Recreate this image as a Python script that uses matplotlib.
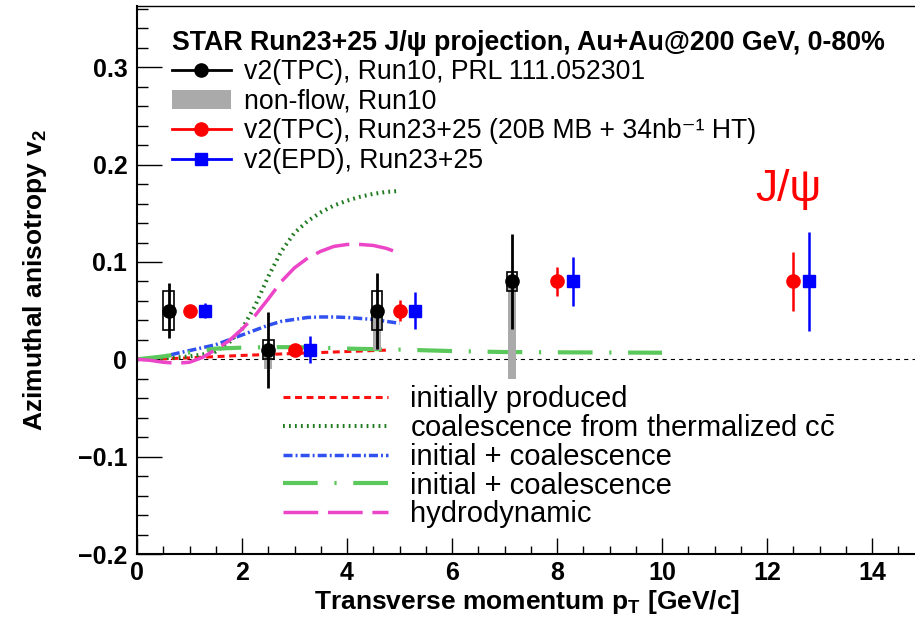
import numpy as np
import matplotlib
matplotlib.use('Agg')
import matplotlib.pyplot as plt
from matplotlib.lines import Line2D
from matplotlib.patches import Patch

plt.rcParams['font.family'] = ['Liberation Sans', 'DejaVu Sans']
plt.rcParams['mathtext.fontset'] = 'custom'
plt.rcParams['mathtext.rm'] = 'Liberation Sans'
plt.rcParams['mathtext.it'] = 'Liberation Sans:italic'
plt.rcParams['mathtext.bf'] = 'Liberation Sans:bold'
plt.rcParams['lines.scale_dashes'] = False

# Run10 measurement (PRL 111.052301)
run10_pt = [0.6, 2.5, 4.57, 7.14]
run10_v2 = [0.05, 0.01, 0.05, 0.08]
run10_stat = [0.028, 0.039, 0.039, 0.049]
run10_sys = [0.02, 0.01, 0.02, 0.01]
run10_nonflow = [0.0, 0.02, 0.04, 0.10]

# Run23+25 projections
tpc_pt = [1.0, 3.0, 5.0, 8.0, 12.5]
tpc_v2 = [0.05, 0.01, 0.05, 0.08, 0.08]
tpc_err = [0.004, 0.004, 0.011, 0.015, 0.03]

epd_pt = [1.3, 3.3, 5.3, 8.3, 12.8]
epd_v2 = [0.05, 0.01, 0.05, 0.08, 0.08]
epd_err = [0.008, 0.014, 0.019, 0.025, 0.051]

# model curves
init_pt = [0, 0.5, 1.0, 1.5, 2.0, 2.5, 3.0, 3.5, 4.0, 4.5, 4.8]
init_v2 = [0, 0.0005, 0.0015, 0.0028, 0.004, 0.005, 0.006, 0.007, 0.008, 0.009, 0.0095]

coal_pt = [0, 0.5, 1.0, 1.25, 1.5, 1.75, 2.0, 2.25, 2.5, 2.75, 3.0, 3.25, 3.5,
           3.75, 4.0, 4.25, 4.5, 4.75, 5.0]
coal_v2 = [0, 0.001, 0.003, 0.005, 0.008, 0.017, 0.031, 0.055, 0.085, 0.111,
           0.130, 0.142, 0.151, 0.158, 0.163, 0.167, 0.170, 0.172, 0.173]

ic1_pt = [0, 0.25, 0.5, 0.75, 1.0, 1.25, 1.5, 1.75, 2.0, 2.25, 2.5, 2.75, 3.0,
          3.25, 3.5, 3.75, 4.0, 4.25, 4.5, 4.75, 5.0]
ic1_v2 = [0, 0.001, 0.003, 0.006, 0.009, 0.012, 0.015, 0.020, 0.025, 0.030,
          0.035, 0.039, 0.041, 0.043, 0.0435, 0.0435, 0.043, 0.042, 0.041,
          0.039, 0.037]

ic2_pt = [0, 0.5, 1.0, 1.5, 2.0, 2.5, 3.0, 3.5, 4.0, 5.0, 6.0, 7.0, 8.0, 9.0, 10.0]
ic2_v2 = [0, 0.003, 0.007, 0.011, 0.012, 0.0125, 0.0125, 0.012, 0.011, 0.010,
          0.0085, 0.0075, 0.0072, 0.007, 0.0068]

hydro_pt = [0, 0.25, 0.5, 0.75, 1.0, 1.25, 1.5, 1.75, 2.0, 2.25, 2.5, 2.75,
            3.0, 3.25, 3.5, 3.75, 4.0, 4.25, 4.5, 4.75, 5.0]
hydro_v2 = [0, -0.001, -0.003, -0.004, -0.003, 0.002, 0.010, 0.019, 0.031,
            0.045, 0.062, 0.080, 0.094, 0.104, 0.111, 0.116, 0.118, 0.118,
            0.117, 0.114, 0.109]

fig = plt.figure(figsize=(9.15, 6.23), dpi=100)
ax = fig.add_axes([137 / 915, 69 / 623, 787.5 / 915, 548 / 623])
ax.set_xlim(0, 15)
ax.set_ylim(-0.2, 0.363)

ax.axhline(0, color='k', lw=0.8, ls=(0, (3, 3)), zorder=1)

# theory curves
h_init, = ax.plot(init_pt, init_v2, color='#ff1010', lw=2.2,
                  ls=(0, (5, 3.3)), zorder=2)
h_coal, = ax.plot(coal_pt, coal_v2, color='#1f7a1f', lw=2.9,
                  ls=(0, (1.3, 3.0)), zorder=2)
h_ic1, = ax.plot(ic1_pt, ic1_v2, color='#3050f0', lw=2.5,
                 ls=(0, (6.5, 2.2, 1.4, 2.2)), zorder=2)
h_ic2, = ax.plot(ic2_pt, ic2_v2, color='#5ac85a', lw=3.0,
                 ls=(0, (25, 12, 1.6, 12)), zorder=2)
h_hydro, = ax.plot(hydro_pt, hydro_v2, color='#ec45c8', lw=2.5,
                   ls=(0, (25, 7)), zorder=2)

# Run10 non-flow band and systematic boxes
run10_low = np.array(run10_v2) - np.array(run10_nonflow)
ax.bar(run10_pt, run10_nonflow, bottom=run10_low, width=0.15,
       color='#aaaaaa', lw=0, zorder=3)
ax.bar(run10_pt, 2 * np.array(run10_sys),
       bottom=np.array(run10_v2) - np.array(run10_sys), width=0.2,
       fill=False, edgecolor='k', lw=1.2, zorder=4)
ax.errorbar(run10_pt, run10_v2, yerr=run10_stat, fmt='o', color='k',
            ms=9.5, elinewidth=2.0, capsize=0, zorder=5)
ax.errorbar(tpc_pt, tpc_v2, yerr=tpc_err, fmt='o', color='#ff0000',
            ms=9.5, elinewidth=1.8, capsize=0, zorder=5)
ax.errorbar(epd_pt, epd_v2, yerr=epd_err, fmt='s', color='#0000ff',
            ms=8.5, elinewidth=1.8, capsize=0, zorder=5)

ax.text(12.4, 0.163, 'J/ψ', color='#ff0000', fontsize=32,
        ha='center', va='baseline')

# axes styling
ax.spines['right'].set_visible(False)
for side in ['left', 'bottom']:
    ax.spines[side].set_linewidth(1.5)
ax.spines['top'].set_linewidth(1.0)
ax.set_xticks(np.arange(0, 15, 2))
ax.set_xticks(np.arange(0, 15.01, 0.5), minor=True)
ax.set_yticks([-0.2, -0.1, 0, 0.1, 0.2, 0.3])
ax.set_yticks(np.arange(-0.2, 0.361, 0.02), minor=True)
ax.set_yticklabels(['\u22120.2', '\u22120.1', '0', '0.1', '0.2', '0.3'])
ax.tick_params(axis='both', which='both', direction='in', width=1.0,
               labelsize=18)
ax.tick_params(axis='x', which='major', length=11.5, pad=5)
ax.tick_params(axis='x', which='minor', length=5.5)
ax.tick_params(axis='y', which='major', length=18, pad=7)
ax.tick_params(axis='y', which='minor', length=8)
for lab in ax.get_xticklabels() + ax.get_yticklabels():
    lab.set_fontweight('bold')

ax.set_xlabel(r'Transverse momentum p$_{\mathbf{T}}$ [GeV/c]',
              fontsize=19, fontweight='bold')
ax.set_ylabel(r'Azimuthal anisotropy v$_{\mathbf{2}}$',
              fontsize=19, fontweight='bold')
ax.xaxis.set_label_coords(0.4952, -0.062)
ax.yaxis.set_label_coords(-0.1117, 0.5)

# data legend
data_handles = [
    Line2D([], [], color='k', marker='o', ms=9.5, lw=2.0),
    Patch(facecolor='#aaaaaa', edgecolor='none'),
    Line2D([], [], color='#ff0000', marker='o', ms=9.5, lw=2.0),
    Line2D([], [], color='#0000ff', marker='s', ms=8.5, lw=2.0),
]
data_labels = [
    'v2(TPC), Run10, PRL 111.052301',
    'non-flow, Run10',
    'v2(TPC), Run23+25 (20B MB + 34nb\u207b\u00b9 HT)',
    'v2(EPD), Run23+25',
]
fig.legend(data_handles, data_labels, loc='upper left',
           bbox_to_anchor=(172 / 915, 1 - 30 / 623),
           frameon=False, fontsize=19.2, handlelength=2.2,
           handletextpad=0.5, borderpad=0, borderaxespad=0,
           labelspacing=0.13,
           title='STAR Run23+25 J/ψ projection, Au+Au@200 GeV, 0-80%',
           title_fontproperties={'weight': 'bold', 'size': 19.3},
           alignment='left')

# model legend
model_handles = [h_init, h_coal, h_ic1, h_ic2, h_hydro]
model_labels = [
    'initially produced',
    r'coalescence from thermalized c$\bar{\mathrm{c}}$',
    'initial + coalescence',
    'initial + coalescence',
    'hydrodynamic',
]
fig.legend(model_handles, model_labels, loc='upper left',
           bbox_to_anchor=(283 / 915, 1 - 385 / 623),
           frameon=False, fontsize=21, handlelength=3.6,
           handletextpad=0.75, borderpad=0, borderaxespad=0,
           labelspacing=0.03)

fig.savefig('out.png', dpi=100)
